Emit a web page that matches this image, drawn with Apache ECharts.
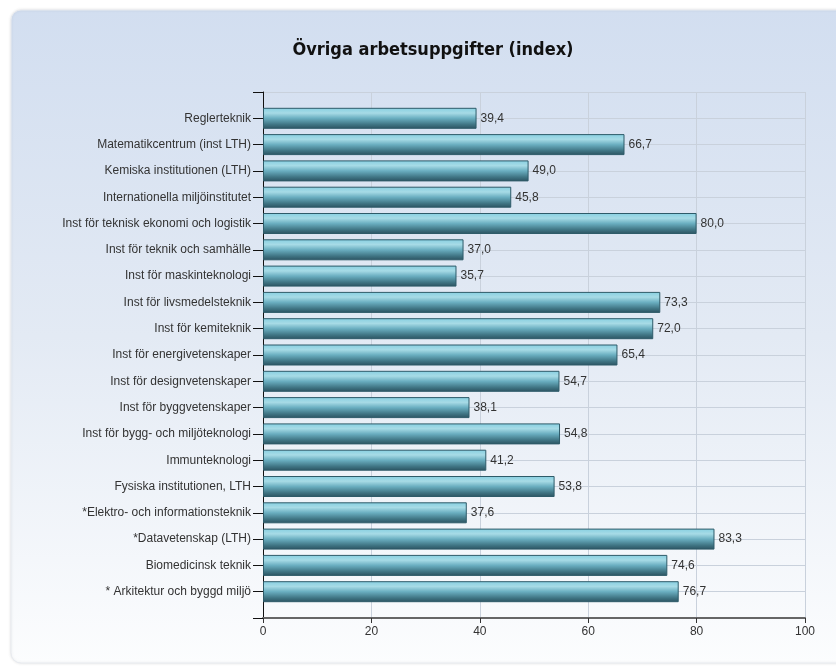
<!DOCTYPE html>
<html>
<head>
<meta charset="utf-8">
<script src="https://cdn.jsdelivr.net/npm/echarts@6/dist/echarts.min.js"></script>
<style>
html,body{margin:0;padding:0;background:#ffffff;}
#chart{width:836px;height:672px;}
</style>
</head>
<body>
<div id="chart"></div>
<script>
var titleText = 'Övriga arbetsuppgifter (index)';
var categories = [
  'Reglerteknik',
  'Matematikcentrum (inst LTH)',
  'Kemiska institutionen (LTH)',
  'Internationella miljöinstitutet',
  'Inst för teknisk ekonomi och logistik',
  'Inst för teknik och samhälle',
  'Inst för maskinteknologi',
  'Inst för livsmedelsteknik',
  'Inst för kemiteknik',
  'Inst för energivetenskaper',
  'Inst för designvetenskaper',
  'Inst för byggvetenskaper',
  'Inst för bygg- och miljöteknologi',
  'Immunteknologi',
  'Fysiska institutionen, LTH',
  '*Elektro- och informationsteknik',
  '*Datavetenskap (LTH)',
  'Biomedicinsk teknik',
  '* Arkitektur och byggd miljö'
];
var values = [39.4, 66.7, 49.0, 45.8, 80.0, 37.0, 35.7, 73.3, 72.0, 65.4, 54.7, 38.1, 54.8, 41.2, 53.8, 37.6, 83.3, 74.6, 76.7];
var xTicks = [0, 20, 40, 60, 80, 100];

// padded category list so the axis has an empty slot at each end
var axisCats = [''].concat(categories).concat(['']);
var axisVals = [null].concat(values).concat([null]);

var chart = echarts.init(document.getElementById('chart'), null, {renderer: 'canvas'});
var option = {
  backgroundColor: '#ffffff',
  animation: false,
  graphic: [{
    type: 'rect',
    z: -10,
    shape: {x: 11, y: 10, width: 900, height: 653, r: 10},
    style: {
      fill: {
        type: 'linear', x: 0, y: 0, x2: 0, y2: 1,
        colorStops: [
          {offset: 0, color: '#d2def0'},
          {offset: 0.5, color: '#e3eaf4'},
          {offset: 1, color: '#fcfdfe'}
        ]
      },
      stroke: '#e8ebf0',
      lineWidth: 1,
      shadowBlur: 3,
      shadowColor: 'rgba(0,0,0,0.10)'
    }
  }],
  title: {
    text: titleText,
    left: 428,
    textAlign: 'center',
    top: 36,
    textStyle: {
      fontFamily: 'DejaVu Sans Condensed',
      fontWeight: 'bold',
      fontSize: 18,
      color: '#111111'
    }
  },
  grid: {left: 263, right: 31, top: 92, bottom: 54, containLabel: false},
  xAxis: {
    type: 'value',
    min: 0, max: 100, interval: 20,
    axisLine: {show: true, onZero: false, lineStyle: {color: '#666666', width: 2}},
    axisTick: {show: true, length: 5, lineStyle: {color: '#333333'}},
    axisLabel: {
      color: '#333333', fontFamily: 'Liberation Sans', fontSize: 12, margin: 8,
      formatter: function (v) { return xTicks.indexOf(v) >= 0 ? String(v) : ''; }
    },
    splitLine: {show: true, lineStyle: {color: '#c9d1dc', width: 1}}
  },
  yAxis: {
    type: 'category',
    data: axisCats,
    inverse: true,
    boundaryGap: false,
    axisLine: {show: true, lineStyle: {color: '#111111', width: 1}},
    axisTick: {show: true, length: 10, interval: 0, lineStyle: {color: '#111111'}},
    axisLabel: {
      interval: 0, color: '#333333', fontFamily: 'Liberation Sans', fontSize: 12, margin: 12
    },
    splitLine: {show: true, interval: 0, lineStyle: {color: '#c9d1dc', width: 1}}
  },
  series: [{
    type: 'bar',
    data: axisVals,
    barWidth: 21,
    itemStyle: {
      borderColor: '#2e5b69',
      borderWidth: 1,
      color: {
        type: 'linear', x: 0, y: 0, x2: 0, y2: 1,
        colorStops: [
          {offset: 0, color: '#86cfe1'},
          {offset: 0.25, color: '#a7dbe6'},
          {offset: 0.5, color: '#6aaec0'},
          {offset: 0.8, color: '#3f7483'},
          {offset: 1, color: '#2b5260'}
        ]
      }
    },
    label: {
      show: true,
      position: 'right',
      distance: 4,
      color: '#333333',
      fontFamily: 'Liberation Sans',
      fontSize: 12,
      formatter: function (p) { return p.value == null ? '' : p.value.toFixed(1).replace('.', ','); }
    }
  }]
};
chart.setOption(option);
</script>
</body>
</html>
